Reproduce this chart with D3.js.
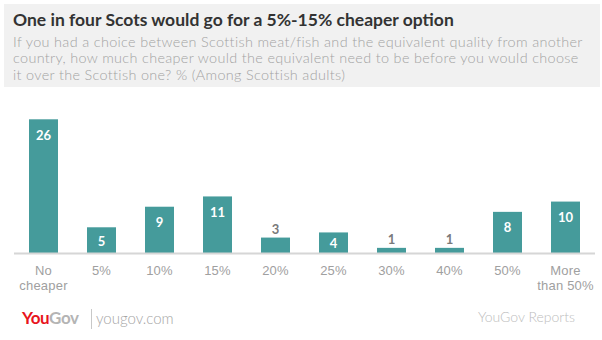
<!DOCTYPE html>
<html>
<head>
<meta charset="utf-8">
<script src="https://cdn.jsdelivr.net/npm/d3@7"></script>
<style>
  body { margin: 0; background: #fff; }
  svg { display: block; font-family: Lato, "Open Sans", sans-serif; }
</style>
</head>
<body>
<svg width="602" height="340"></svg>
<script>
const categories = ["No cheaper", "5%", "10%", "15%", "20%", "25%", "30%", "40%", "50%", "More than 50%"];
const values = [26, 5, 9, 11, 3, 4, 1, 1, 8, 10];
const tickLines = [["No", "cheaper"], ["5%"], ["10%"], ["15%"], ["20%"], ["25%"], ["30%"], ["40%"], ["50%"], ["More", "than 50%"]];

const title = "One in four Scots would go for a 5%-15% cheaper option";
const subtitle = [
  "If you had a choice between Scottish meat/fish and the equivalent quality from another",
  "country, how much cheaper would the equivalent need to be before you would choose",
  "it over the Scottish one? % (Among Scottish adults)"
];

const svg = d3.select("svg");
const width = +svg.attr("width");
const height = +svg.attr("height");

const data = categories.map((c, i) => ({ cat: c, value: values[i], lines: tickLines[i] }));

// header block
svg.append("rect")
  .attr("x", 4).attr("y", 4)
  .attr("width", 596).attr("height", 83)
  .attr("fill", "#f1f1f1");

svg.append("text")
  .text(title)
  .attr("x", 13).attr("y", 26)
  .attr("font-size", 17.5)
  .attr("font-weight", "bold")
  .attr("fill", "#333");

svg.append("g").selectAll("text")
  .data(subtitle)
  .join("text")
  .text((d) => d)
  .attr("x", 13)
  .attr("y", (d, i) => 46.5 + i * 16.6)
  .attr("font-size", 14.4)
  .attr("font-weight", 300)
  .attr("letter-spacing", 0.35)
  .attr("fill", "#a3a3a3");

// scales
const baseY = 253;
const xScale = d3.scaleBand()
  .domain(categories)
  .range([14.5, 594.5])
  .paddingInner(0.5)
  .paddingOuter(0.25);

const yScale = d3.scaleLinear()
  .domain([0, 26])
  .range([baseY, 119.3]);

const g = svg.append("g");

// bars
g.selectAll("rect.bar")
  .data(data)
  .join("rect")
  .attr("class", "bar")
  .attr("x", (d) => xScale(d.cat))
  .attr("y", (d) => yScale(d.value))
  .attr("width", xScale.bandwidth())
  .attr("height", (d) => baseY - yScale(d.value))
  .attr("fill", "#459b9b");

// x axis
const xAxis = d3.axisBottom(xScale).tickSize(0).tickFormat("");
const xAxisG = g.append("g")
  .attr("transform", `translate(0,${baseY})`)
  .call(xAxis);
xAxisG.select(".domain")
  .attr("d", `M14,0.5H595`)
  .attr("stroke", "#d6d6d6")
  .attr("stroke-width", 2);

// category labels, some on two lines
xAxisG.selectAll(".tick").each(function (d, i) {
  const t = d3.select(this).append("text")
    .attr("fill", "#a0a0a0")
    .attr("font-size", 13)
    .attr("font-weight", 300)
    .attr("letter-spacing", 0.2)
    .attr("text-anchor", "middle")
    .attr("y", 22);
  tickLines[i].forEach((line, j) => {
    t.append("tspan").attr("x", 0).attr("dy", j === 0 ? 0 : 14.5).text(line);
  });
});

// value labels: inside the bar when it is tall enough, above it otherwise
g.selectAll("text.val")
  .data(data)
  .join("text")
  .attr("class", "val")
  .text((d) => d.value)
  .attr("x", (d) => xScale(d.cat) + xScale.bandwidth() / 2)
  .attr("y", (d) => {
    const top = yScale(d.value);
    const h = baseY - top;
    if (d.value < 4) return top - 3.5;
    return top + Math.min(16, h / 2 + 1) + 4.5;
  })
  .attr("text-anchor", "middle")
  .attr("font-size", 13)
  .attr("font-weight", "bold")
  .attr("fill", (d) => (d.value < 4 ? "#7a7a7a" : "#fff"));

// footer
const logo = svg.append("text")
  .attr("x", 22).attr("y", 324)
  .attr("font-size", 17)
  .attr("font-weight", "bold")
  .attr("letter-spacing", -0.4);
logo.append("tspan").text("You").attr("fill", "#e8141c");
logo.append("tspan").text("Gov").attr("fill", "#b4b4b4");

svg.append("line")
  .attr("x1", 91.5).attr("x2", 91.5)
  .attr("y1", 309).attr("y2", 329)
  .attr("stroke", "#c8c8c8");

svg.append("text")
  .text("yougov.com")
  .attr("x", 96).attr("y", 324)
  .attr("font-size", 15)
  .attr("font-weight", 300)
  .attr("fill", "#a5a5a5");

svg.append("text")
  .text("YouGov Reports")
  .attr("x", 575).attr("y", 322)
  .attr("text-anchor", "end")
  .attr("font-size", 14)
  .attr("font-weight", 300)
  .attr("fill", "#bdbdbd");
</script>
</body>
</html>
